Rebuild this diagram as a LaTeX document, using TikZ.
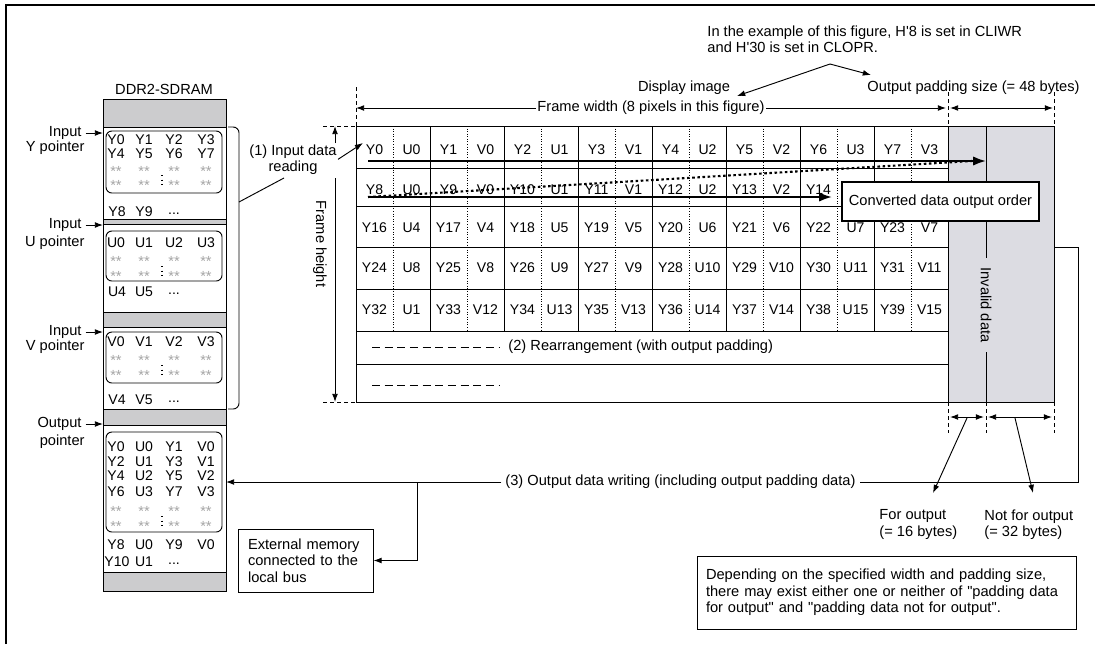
\documentclass[tikz,border=0pt]{standalone}
\usepackage{fontspec}
\setmainfont{Liberation Sans}
\usetikzlibrary{arrows.meta}
\definecolor{memgray}{RGB}{204,204,206}
\definecolor{padgray}{RGB}{220,220,226}
\tikzset{
	lbl/.style={inner sep=0pt, font=\fontsize{12.5}{14}\selectfont},
	cell/.style={inner sep=0pt, font=\fontsize{12}{14}\selectfont},
	mem/.style={inner sep=0pt, font=\fontsize{12}{13}\selectfont},
	stars/.style={inner sep=0pt, text=black!35, font=\fontsize{12.5}{13}\selectfont},
	arr/.style={-{Latex[length=7pt,width=5pt]}},
	dim/.style={{Latex[length=7pt,width=5pt]}-{Latex[length=7pt,width=5pt]}},
	guide/.style={dash pattern=on 3.5pt off 2.5pt},
	grid/.style={line width=0.7pt},
	halfgrid/.style={line width=0.6pt, dash pattern=on 0.7pt off 1.5pt},
	order/.style={line width=1.8pt},
	orderarr/.style={order, -{Latex[length=11pt,width=8pt]}},
	notebox/.style={draw, line width=0.8pt, align=left, inner ysep=0pt, font=\fontsize{12.5}{14}\selectfont},
}
\begin{document}
\begin{tikzpicture}[x=0.03cm,y=-0.03cm,line width=0.8pt]
	\useasboundingbox (0,0) rectangle (1095,644);

	% Cornice (solo lati alto e sinistro)
	\draw[line width=2pt] (6,644) -- (6,5) -- (1095,5);

	% Colonna DDR2-SDRAM
	\node[lbl] (ddr) at (164,89) {DDR2-SDRAM};
	\draw[fill=memgray] (103,99) rectangle (226,591);
	\foreach \ya/\yb in {127/219,224/312,327/409,425/572}
		\draw[fill=white] (103,\ya) rectangle (226,\yb);
	\foreach \ya/\yb in {131/193,231/281,332/383,432/532}
		\draw[rounded corners=5pt] (106,\ya) rectangle (222,\yb);
	\foreach \y/\a/\b/\c/\d in {140/Y0/Y1/Y2/Y3, 154/Y4/Y5/Y6/Y7, 243/U0/U1/U2/U3,
		342/V0/V1/V2/V3, 447/Y0/U0/Y1/V0, 462/Y2/U1/Y3/V1, 476/Y4/U2/Y5/V2,
		492/Y6/U3/Y7/V3, 545/Y8/U0/Y9/V0}{
		\node[mem] (m\y-1) at (116,\y) {\a};
		\node[mem] (m\y-2) at (144,\y) {\b};
		\node[mem] (m\y-3) at (174,\y) {\c};
		\node[mem] (m\y-4) at (206,\y) {\d};
	}
	\foreach \y in {168,182,258,273,357,372,508,523}{
		\node[stars] (s\y-1) at (116,\y+3) {**};
		\node[stars] (s\y-2) at (144,\y+3) {**};
		\node[stars] (s\y-3) at (174,\y+3) {**};
		\node[stars] (s\y-4) at (206,\y+3) {**};
	}
	\foreach \y in {182,273,372,523}
		\draw[line width=1pt, dash pattern=on 0.9pt off 3pt] (162,\y-7) -- (162,\y+5);
	\foreach \y/\a/\b in {212/Y8/Y9, 292/U4/U5, 400/V4/V5, 562/Y10/U1}{
		\node[mem] (t\y-1) at (117,\y) {\a};
		\node[mem] (t\y-2) at (144,\y) {\b};
		\node[mem] (t\y-3) at (174,\y+2) {...};
	}

	% Puntatori
	\foreach \n/\ta/\tb/\ya/\yb in {py/Input/Y pointer/133/148, pu/Input/U pointer/225/243,
		pv/Input/V pointer/332/347, po/Output/pointer/424/442}{
		\node[lbl, anchor=east] (\n-a) at (82,\ya) {\ta};
		\node[lbl, anchor=east] (\n-b) at (85,\yb) {\tb};
		\coordinate (\n-t) at (103,\ya);
		\draw[arr, shorten <=3pt] (\n-a.east) -- (\n-t);
	}

	% Parentesi e lettura (1)
	\draw[rounded corners=5pt] (228,127) -| (239,409) -- (228,409);
	\node[lbl, align=center] (rd) at (293,160) {(1) Input data\\reading};
	\coordinate (brk) at (239,202);
	\coordinate (rdl) at (284,178);
	\coordinate (c00) at (363,143);
	\draw (brk) -- (rdl);
	\draw[arr, shorten <=1pt] (rd.east) -- (c00);

	% Zona di padding
	\draw[fill=padgray] (948,126) rectangle (1054,402);
	\node[lbl, rotate=-90, inner xsep=8pt] (inv) at (986,305) {Invalid data};
	\coordinate (invt) at (986,126);
	\coordinate (invb) at (986,402);
	\draw (invt) -- (inv);
	\draw (inv) -- (invb);

	% Griglia dell'immagine
	\draw[grid] (356,126) rectangle (948,402);
	\foreach \y in {168,206,247,289,331,364}
		\draw[grid] (356,\y) -- (948,\y);
	\foreach \k in {2,4,...,14}
		\draw[grid] ({356+37*\k},126) -- ({356+37*\k},331);
	\foreach \k in {1,3,...,15}
		\draw[halfgrid] ({356+37*\k},126) -- ({356+37*\k},331);

	\foreach \t [count=\k from 0] in {Y0,U0,Y1,V0,Y2,U1,Y3,V1,Y4,U2,Y5,V2,Y6,U3,Y7,V3}
		\node[cell] (a\k) at ({374.5+37*\k},150) {\t};
	\foreach \t [count=\k from 0] in {Y8,U0,Y9,V0,Y10,U1,Y11,V1,Y12,U2,Y13,V2,Y14}
		\node[cell] (b\k) at ({374.5+37*\k},190) {\t};
	\foreach \t [count=\k from 0] in {Y16,U4,Y17,V4,Y18,U5,Y19,V5,Y20,U6,Y21,V6,Y22,U7,Y23,V7}
		\node[cell] (c\k) at ({374.5+37*\k},228) {\t};
	\foreach \t [count=\k from 0] in {Y24,U8,Y25,V8,Y26,U9,Y27,V9,Y28,U10,Y29,V10,Y30,U11,Y31,V11}
		\node[cell] (d\k) at ({374.5+37*\k},268) {\t};
	\foreach \t [count=\k from 0] in {Y32,U1,Y33,V12,Y34,U13,Y35,V13,Y36,U14,Y37,V14,Y38,U15,Y39,V15}
		\node[cell] (e\k) at ({374.5+37*\k},310) {\t};

	% Riordino (2)
	\node[lbl, anchor=west] (rearr) at (508,347) {(2) Rearrangement (with output padding)};
	\draw[line width=0.7pt, dash pattern=on 6.8pt off 4pt] (372,347) -- (500,347);
	\draw[line width=0.7pt, dash pattern=on 6.8pt off 4pt] (372,385) -- (500,385);

	% Ordine di uscita
	\coordinate (o1s) at (368,161);
	\coordinate (o1e) at (986,161);
	\coordinate (o1d) at (972,161);
	\coordinate (o2s) at (368,197);
	\coordinate (o2e) at (832,197);
	\draw[orderarr] (o1s) -- (o1e);
	\draw[order, dash pattern=on 2.2pt off 2.2pt] (o2s) -- (o1d);
	\draw[orderarr] (o2s) -- (o2e);
	\node[draw, fill=white, line width=2pt, cell, font=\fontsize{12.5}{14}\selectfont,
		minimum width=5.91cm, minimum height=1.17cm] (conv) at (940.5,201.5) {Converted data output order};

	% Quote in alto
	\foreach \x/\ya in {356/87,948/92,1054/92}
		\draw[guide] (\x,\ya) -- (\x,126);
	\draw[guide] (323,126) -- (356,126);
	\draw[guide] (323,402) -- (356,402);
	\node[lbl, fill=white, inner xsep=1pt] (fwl) at (651,108) {Frame width (8 pixels in this figure)};
	\coordinate (fw1) at (356,108);
	\coordinate (fw2) at (946,108);
	\draw[arr] (fwl.west) -- (fw1);
	\draw[arr] (fwl.east) -- (fw2);
	\coordinate (pd1) at (950,108);
	\coordinate (pd2) at (1053,108);
	\draw[dim] (pd1) -- (pd2);

	% Quota altezza
	\node[lbl, rotate=-90] (fhl) at (320,244) {Frame height};
	\coordinate (fhtop) at (335,126);
	\coordinate (fha) at (335,143);
	\coordinate (fhb) at (335,178);
	\coordinate (fhbot) at (335,402);
	\draw[arr] (fha) -- (fhtop);
	\draw[arr] (fhb) -- (fhbot);

	% Note in alto
	\node[lbl, align=left, anchor=west] (note1) at (707,39.5)
		{In the example of this figure, H\textquotesingle 8 is set in CLIWR\\and H\textquotesingle 30 is set in CLOPR.};
	\node[lbl] (disp) at (684,88) {Display image};
	\node[lbl, anchor=west] (opad) at (867,88) {Output padding size (= 48 bytes)};
	\coordinate (nt) at (830,64);
	\coordinate (dt) at (737,96);
	\coordinate (ot) at (871,75);
	\draw[arr] (nt) -- (dt);
	\draw[arr] (nt) -- (ot);

	% Quote sotto il padding
	\foreach \x in {948,986,1054}
		\draw[guide] (\x,402) -- (\x,433);
	\coordinate (q1) at (950,417);
	\coordinate (q2) at (984,417);
	\coordinate (q3) at (988,417);
	\coordinate (q4) at (1052,417);
	\draw[dim] (q1) -- (q2);
	\draw[dim] (q3) -- (q4);
	\node[lbl, align=left, anchor=west] (fo) at (879,524.5) {For output\\(= 16 bytes)};
	\node[lbl, align=left, anchor=west] (nfo) at (984,524.5) {Not for output\\(= 32 bytes)};
	\coordinate (l1) at (967,418);
	\coordinate (l1t) at (933,493);
	\coordinate (l2) at (1015,418);
	\coordinate (l2t) at (1033,493);
	\draw[arr] (l1) -- (l1t);
	\draw[arr] (l2) -- (l2t);

	% Scrittura (3)
	\node[lbl, inner xsep=3pt] (wr) at (680.5,482) {(3) Output data writing (including output padding data)};
	\node[notebox, text width=3.45cm, inner xsep=0.3cm, minimum height=1.89cm] (ext) at (305.5,560.5)
		{External memory\\connected to the\\local bus};
	\coordinate (padr) at (1054,247);
	\coordinate (lp1) at (1078,247);
	\coordinate (lp2) at (1078,482);
	\coordinate (memo) at (226,482);
	\coordinate (br) at (417,482);
	\draw (padr) -- (lp1) -- (lp2) -- (wr.east);
	\draw[arr] (wr.west) -- (memo);
	\draw[arr] (br) |- (ext.east);

	% Nota finale
	\node[notebox, text width=10.83cm, inner xsep=0.27cm, minimum height=2.19cm] (hint) at (886.5,592.5)
		{Depending on the specified width and padding size,\\there may exist either one or neither of \textquotedbl padding data\\for output\textquotedbl{} and \textquotedbl padding data not for output\textquotedbl .};
\end{tikzpicture}
\end{document}
